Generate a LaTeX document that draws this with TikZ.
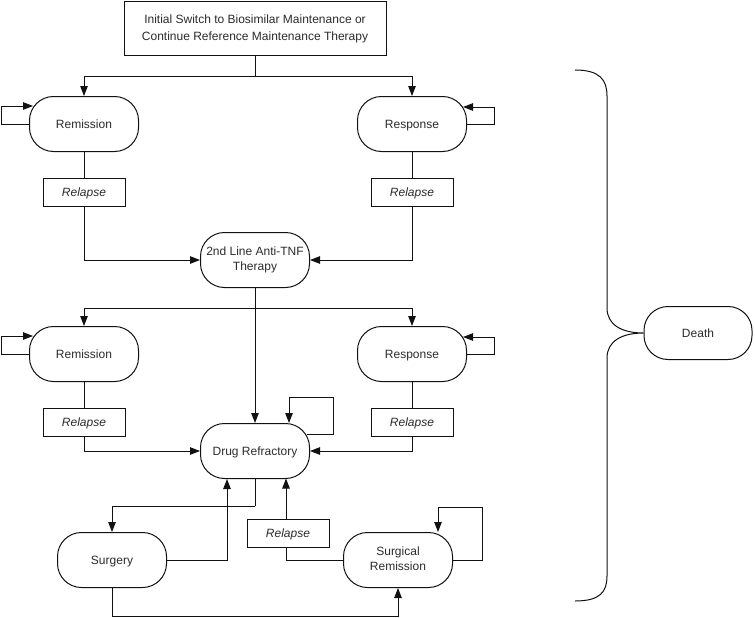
\documentclass[tikz,border=0pt]{standalone}
\usepackage{fontspec}
\setmainfont{Liberation Sans}
\usepackage{tikz}
\usetikzlibrary{arrows.meta,calc}
\definecolor{mkink}{HTML}{111111}
\definecolor{mktext}{HTML}{2B2B2B}
\newcommand{\mkstrut}{\rule[-2.7pt]{0pt}{14pt}}
\tikzset{
  stnode/.style={draw=mkink,line width=1pt,rounded corners=24pt,
              minimum width=109pt,minimum height=55pt,inner sep=2pt,
              align=center,font=\fontsize{12}{14.5}\selectfont,text=mktext,
              execute at begin node=\mkstrut},
  initbox/.style={draw=mkink,line width=1pt,minimum width=262pt,minimum height=54pt,
              align=center,font=\fontsize{12}{17}\selectfont,text=mktext},
  relbox/.style={draw=mkink,line width=1pt,minimum width=82pt,minimum height=28pt,
              inner sep=2pt,font=\fontsize{12}{14}\selectfont\itshape,text=mktext,
              execute at begin node=\mkstrut},
  link/.style={draw=mkink,line width=1pt},
  flow/.style={link,-{Triangle[length=10pt,width=7.5pt]}},
}

\begin{document}
\begin{tikzpicture}[x=1pt,y=-1pt]
  \useasboundingbox (0,0) rectangle (755,618);

  % ---- nodes (top to bottom) ----
  \node[initbox] (init) at (255,29)
    {Initial Switch to Biosimilar Maintenance or\\Continue Reference Maintenance Therapy};
  \node[stnode] (remA)  at (84,124)  {Remission};
  \node[stnode] (respA) at (412,124) {Response};
  \node[relbox] (relA)  at (84,192)  {Relapse};
  \node[relbox] (relB)  at (412,192) {Relapse};
  \node[stnode] (second) at (255,260) {2nd Line Anti-TNF\\Therapy};
  \node[stnode] (remB)  at (84,354)  {Remission};
  \node[stnode] (respB) at (412,354) {Response};
  \node[relbox] (relC)  at (84,422)  {Relapse};
  \node[relbox] (relD)  at (412,422) {Relapse};
  \node[stnode] (refr)  at (255,451) {Drug Refractory};
  \node[stnode] (surg)  at (112,560) {Surgery};
  \node[stnode] (surgrem) at (398,560) {Surgical\\Remission};
  \node[relbox] (relE)  at (288,533) {Relapse};
  \node[stnode,minimum width=108pt,minimum height=53pt] (death) at (698,333) {Death};

  % ---- first line ----
  \draw[link] (init.south) -- ++(0,20) coordinate (splitA);
  \draw[flow] (splitA) -| (remA.north);
  \draw[flow] (splitA) -| (respA.north);
  \draw[flow] (remA.west) -- ++(-28,0) -- ++(0,-18) -- ($(remA.west)+(4,-18)$);
  \draw[flow] (respA.east) -- ++(27,0) -- ++(0,-17) -- ($(respA.east)+(-4,-17)$);
  \draw[link] (remA.south) -- (relA.north);
  \draw[link] (respA.south) -- (relB.north);
  \draw[flow] (relA.south) |- (second.west);
  \draw[flow] (relB.south) |- (second.east);

  % ---- second line ----
  \draw[link] (second.south) -- ++(0,20) coordinate (splitB);
  \draw[flow] (splitB) -- (refr.north);
  \draw[flow] (splitB) -| (remB.north);
  \draw[flow] (splitB) -| (respB.north);
  \draw[flow] (remB.west) -- ++(-28,0) -- ++(0,-18) -- ($(remB.west)+(4,-18)$);
  \draw[flow] (respB.east) -- ++(27,0) -- ++(0,-17) -- ($(respB.east)+(-4,-17)$);
  \draw[link] (remB.south) -- (relC.north);
  \draw[link] (respB.south) -- (relD.north);
  \draw[flow] (relC.south) |- (refr.west);
  \draw[flow] (relD.south) |- (refr.east);
  \draw[flow] ($(refr.east)+(-3,-17)$) -- ++(26,0) -- ++(0,-37) -| ($(refr.north)+(34,0)$);

  % ---- surgery ----
  \draw[link] (refr.south) -- ++(0,27) coordinate (splitC);
  \draw[flow] (splitC) -| (surg.north);
  \draw[flow] (surg.east) -| ($(refr.south)+(-28,0)$);
  \draw[link] (surgrem.west) -| ($(relE.south)+(-2,0)$);
  \draw[flow] ($(relE.north)+(-2,0)$) -- ++(0,-40);
  \draw[flow] (surgrem.east) -- ++(29,0) -- ++(0,-53) -| ($(surgrem.north)+(40,0)$);
  \draw[flow] (surg.south) -- ++(0,28) -| (surgrem.south);

  % ---- brace to death ----
  \draw[link] (575,70) .. controls (600,70) and (607,80) .. (607,96)
    -- (607,308) .. controls (607,325) and (622,333) .. (death.west)
    .. controls (622,333) and (607,341) .. (607,358)
    -- (607,576) .. controls (607,592) and (600,601) .. (575,601);
\end{tikzpicture}
\end{document}
